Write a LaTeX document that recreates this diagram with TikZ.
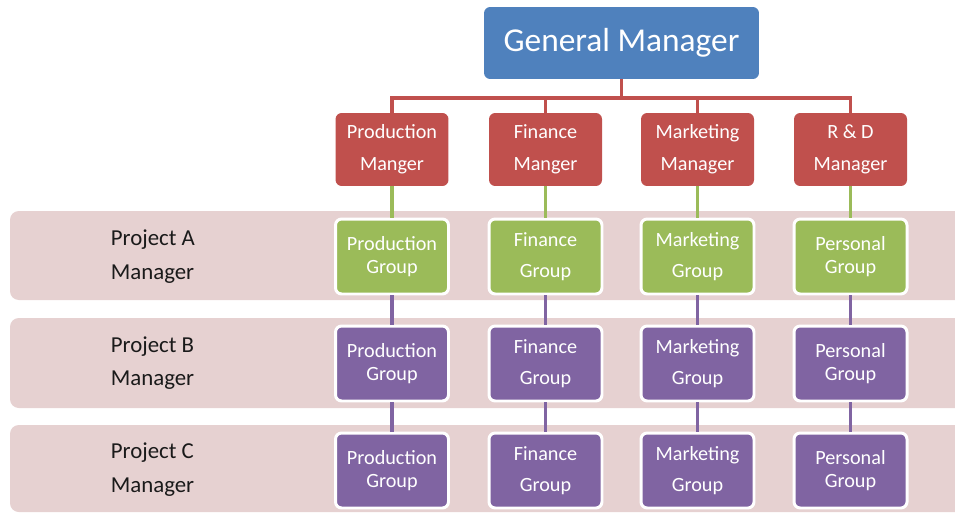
\documentclass[tikz,border=0pt]{standalone}
\usepackage{fontspec}
\setmainfont{Carlito}
\usepackage{tikz}

\definecolor{gmblue}{HTML}{4F81BD}
\definecolor{mgrred}{HTML}{C0504D}
\definecolor{grpgreen}{HTML}{9BBB59}
\definecolor{grppurple}{HTML}{8064A2}
\definecolor{bandpink}{HTML}{E6D1D1}
\definecolor{labelgray}{HTML}{1A1A1A}

\begin{document}
\begin{tikzpicture}[x=0.02cm, y=-0.02cm,
  every node/.style={align=center, text=white, rounded corners=3.5pt, outer sep=0pt},
  gmbox/.style={fill=gmblue, minimum width=5.5cm, minimum height=1.44cm, font=\fontsize{19}{22}\selectfont},
  mgrbox/.style={fill=mgrred, minimum width=2.26cm, minimum height=1.46cm, font=\fontsize{11.5}{13}\selectfont},
  grpbox/.style={draw=white, line width=1.7pt, outer sep=0.85pt, minimum width=2.26cm, minimum height=1.5cm, font=\fontsize{11.5}{13}\selectfont},
  greengrp/.style={grpbox, fill=grpgreen},
  purplegrp/.style={grpbox, fill=grppurple},
  projlabel/.style={text=labelgray, anchor=west, align=left, font=\fontsize{13}{19}\selectfont},
  band/.style={fill=bandpink, rounded corners=5pt},
  redline/.style={draw=mgrred, line width=2pt},
  greenline/.style={draw=grpgreen, line width=1.9pt},
  purpleline/.style={draw=grppurple, line width=1.9pt}]
\useasboundingbox (0,0) rectangle (955,514);

% project bands
\fill[band] (10,211) rectangle (985,300);
\fill[band] (10,318) rectangle (985,408);
\fill[band] (10,425) rectangle (985,512);

% top of the chart
\node[gmbox] (gm) at (621.5,43) {General Manager};
\node[mgrbox] (prod) at (392,149.5) {Production\\[5pt]Manger};
\node[mgrbox] (fin) at (545.5,149.5) {Finance\\[5pt]Manger};
\node[mgrbox] (mkt) at (697.5,149.5) {Marketing\\[5pt]Manager};
\node[mgrbox] (rd) at (850.5,149.5) {R \& D\\[5pt]Manager};

% project rows
\node[projlabel] (lA) at (105,256.5) {Project A\\Manager};
\node[projlabel] (lB) at (105,363) {Project B\\Manager};
\node[projlabel] (lC) at (105,469.5) {Project C\\Manager};

\node[greengrp] (pgA) at (392,256.5) {Production\\Group};
\node[greengrp] (fgA) at (545.5,256.5) {Finance\\[5pt]Group};
\node[greengrp] (mgA) at (697.5,256.5) {Marketing\\[5pt]Group};
\node[greengrp] (rgA) at (850.5,256.5) {Personal\\Group};

\node[purplegrp] (pgB) at (392,363.5) {Production\\Group};
\node[purplegrp] (fgB) at (545.5,363.5) {Finance\\[5pt]Group};
\node[purplegrp] (mgB) at (697.5,363.5) {Marketing\\[5pt]Group};
\node[purplegrp] (rgB) at (850.5,363.5) {Personal\\Group};

\node[purplegrp] (pgC) at (392,470.5) {Production\\Group};
\node[purplegrp] (fgC) at (545.5,470.5) {Finance\\[5pt]Group};
\node[purplegrp] (mgC) at (697.5,470.5) {Marketing\\[5pt]Group};
\node[purplegrp] (rgC) at (850.5,470.5) {Personal\\Group};

% connectors
\coordinate (bus) at (621.5,98);
\draw[redline] (gm) -- (bus);
\draw[redline] (prod) |- (bus) -| (rd);
\draw[redline] (fin) -- (fin |- bus);
\draw[redline] (mkt) -- (mkt |- bus);

\draw[greenline] (prod) -- (pgA);
\draw[greenline] (fin) -- (fgA);
\draw[greenline] (mkt) -- (mgA);
\draw[greenline] (rd) -- (rgA);

\draw[purpleline] (pgA) -- (pgB);
\draw[purpleline] (fgA) -- (fgB);
\draw[purpleline] (mgA) -- (mgB);
\draw[purpleline] (rgA) -- (rgB);
\draw[purpleline] (pgB) -- (pgC);
\draw[purpleline] (fgB) -- (fgC);
\draw[purpleline] (mgB) -- (mgC);
\draw[purpleline] (rgB) -- (rgC);
\end{tikzpicture}
\end{document}
